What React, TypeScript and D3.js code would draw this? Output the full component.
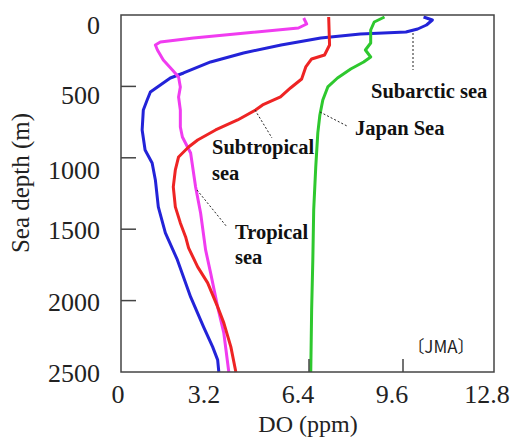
import { useEffect, useRef } from "react";
import * as d3 from "d3";

// depth (m) / dissolved oxygen (ppm)
const subarcticDepth = [14, 35, 70, 98, 119, 133, 161, 210, 266, 329, 406, 441, 490, 539, 595, 665, 805, 945, 1036, 1155, 1344, 1526, 1715, 1974, 2184, 2324, 2415, 2500];
const subarcticDO = [10.3, 10.6, 10.4, 10.1, 9.7, 8.15, 6.8, 5.45, 4.17, 3.05, 2.13, 1.68, 1.34, 1.0, 0.89, 0.76, 0.72, 0.82, 1.06, 1.17, 1.27, 1.51, 1.92, 2.37, 2.81, 3.12, 3.29, 3.33];

const japanSeaDepth = [14, 49, 105, 196, 245, 294, 329, 378, 441, 504, 595, 700, 826, 1064, 1365, 1715, 2065, 2500];
const japanSeaDO = [8.97, 8.62, 8.5, 8.5, 8.32, 8.5, 8.26, 7.82, 7.37, 7.04, 6.87, 6.77, 6.7, 6.63, 6.56, 6.53, 6.49, 6.46];

const subtropicalDepth = [14, 210, 280, 308, 364, 448, 511, 574, 630, 665, 735, 805, 875, 924, 994, 1085, 1204, 1344, 1456, 1554, 1631, 1764, 1876, 2044, 2156, 2324, 2500];
const subtropicalDO = [7.07, 7.1, 6.93, 6.49, 6.29, 6.15, 5.77, 5.43, 4.82, 4.58, 3.97, 3.22, 2.61, 2.3, 1.96, 1.85, 1.78, 1.85, 2.02, 2.2, 2.3, 2.61, 2.95, 3.29, 3.5, 3.74, 3.91];

const tropicalDepth = [21, 63, 91, 126, 161, 189, 210, 245, 315, 385, 434, 504, 574, 665, 784, 854, 966, 1204, 1387, 1645, 1806, 2044, 2227, 2500];
const tropicalDO = [6.22, 6.32, 6.04, 4.24, 2.47, 1.34, 1.17, 1.24, 1.44, 1.75, 1.96, 2.02, 1.96, 2.02, 2.02, 2.09, 2.37, 2.54, 2.71, 2.88, 3.05, 3.29, 3.5, 3.67];

const xTicks = [0, 3.2, 6.4, 9.6, 12.8];
const yTicks = [0, 500, 1000, 1500, 2000, 2500];

const App = () => {
  const svgRef = useRef<SVGSVGElement>(null);

  useEffect(() => {
    const svg = d3.select(svgRef.current);
    svg.selectAll("*").remove();

    const left = 121;
    const right = 494;
    const top = 15;
    const bottom = 372;

    const x = d3.scaleLinear().domain([0, 12.8]).range([left, 497]);
    const y = d3.scaleLinear().domain([0, 2500]).range([top, bottom]);

    const serif = "'Liberation Serif', 'Times New Roman', serif";

    const series = [
      { depth: subarcticDepth, vals: subarcticDO, color: "#2323d8" },
      { depth: tropicalDepth, vals: tropicalDO, color: "#f03cf0" },
      { depth: subtropicalDepth, vals: subtropicalDO, color: "#ee2424" },
      { depth: japanSeaDepth, vals: japanSeaDO, color: "#2ec82e" },
    ];

    const line = d3
      .line<[number, number]>()
      .x((d) => x(d[1]))
      .y((d) => y(d[0]));

    series.forEach((s) => {
      const pts = s.depth.map((d, i) => [d, s.vals[i]] as [number, number]);
      svg
        .append("path")
        .attr("d", line(pts))
        .attr("fill", "none")
        .attr("stroke", s.color)
        .attr("stroke-width", 3)
        .attr("stroke-linejoin", "round");
    });

    // frame
    svg
      .append("rect")
      .attr("x", left)
      .attr("y", top)
      .attr("width", right - left)
      .attr("height", bottom - top)
      .attr("fill", "none")
      .attr("stroke", "#444")
      .attr("stroke-width", 1.5);

    // inner ticks
    svg
      .selectAll(".ytick")
      .data(yTicks.slice(1, -1))
      .join("line")
      .attr("x1", left)
      .attr("x2", left + 15)
      .attr("y1", (d) => y(d))
      .attr("y2", (d) => y(d))
      .attr("stroke", "#444")
      .attr("stroke-width", 1.5);

    svg
      .selectAll(".xtick")
      .data([6.4, 9.6])
      .join("line")
      .attr("x1", (d) => x(d))
      .attr("x2", (d) => x(d))
      .attr("y1", bottom)
      .attr("y2", bottom - 13)
      .attr("stroke", "#444")
      .attr("stroke-width", 1.5);

    // tick labels
    svg
      .selectAll(".ylab")
      .data(yTicks)
      .join("text")
      .attr("x", 100)
      .attr("y", (d) => y(d) + (d === 0 ? 10 : d === 500 ? 8 : d === 1000 ? 12 : 1))
      .attr("dy", "0.35em")
      .attr("text-anchor", "end")
      .attr("font-family", serif)
      .attr("font-size", 26)
      .attr("fill", "#222")
      .text((d) => d);

    svg
      .selectAll(".xlab")
      .data(xTicks)
      .join("text")
      .attr("x", (d) => x(d) - (d === 0 ? 3 : d === 12.8 ? 10 : 11))
      .attr("y", 403)
      .attr("text-anchor", "middle")
      .attr("font-family", serif)
      .attr("font-size", 26)
      .attr("fill", "#222")
      .text((d) => d);

    // axis titles
    svg
      .append("text")
      .attr("x", 308)
      .attr("y", 432)
      .attr("text-anchor", "middle")
      .attr("font-family", serif)
      .attr("font-size", 24)
      .attr("fill", "#222")
      .text("DO (ppm)");

    svg
      .append("text")
      .attr("transform", "translate(29,183) rotate(-90)")
      .attr("text-anchor", "middle")
      .attr("font-family", serif)
      .attr("font-size", 25)
      .attr("fill", "#222")
      .text("Sea depth (m)");

    // leader lines
    const leaders = [
      [413, 33, 413, 70],
      [320, 112, 347, 126],
      [255, 110, 272, 138],
      [197, 190, 227, 227],
    ];
    svg
      .selectAll(".leader")
      .data(leaders)
      .join("line")
      .attr("x1", (d) => d[0])
      .attr("y1", (d) => d[1])
      .attr("x2", (d) => d[2])
      .attr("y2", (d) => d[3])
      .attr("stroke", "#222")
      .attr("stroke-width", 1)
      .attr("stroke-dasharray", "2,2");

    // labels
    const labels: [string, number, number][] = [
      ["Subarctic sea", 371, 98],
      ["Japan Sea", 355, 135],
      ["Subtropical", 212, 154],
      ["sea", 212, 180],
      ["Tropical", 235, 239],
      ["sea", 235, 264],
    ];
    svg
      .selectAll(".lab")
      .data(labels)
      .join("text")
      .attr("x", (d) => d[1])
      .attr("y", (d) => d[2])
      .attr("font-family", serif)
      .attr("font-weight", "bold")
      .attr("font-size", 20.5)
      .attr("fill", "#111")
      .text((d) => d[0]);

    svg
      .append("text")
      .attr("x", 441)
      .attr("y", 353)
      .attr("text-anchor", "middle")
      .attr("font-family", "'Noto Sans CJK JP', 'Noto Sans', sans-serif")
      .attr("font-size", 17)
      .attr("fill", "#222")
      .text("〔JMA〕");
  }, []);

  return <svg ref={svgRef} width={512} height={441} style={{ position: "absolute", left: 0, top: 0, background: "#fff" }} />;
};

export default App;
